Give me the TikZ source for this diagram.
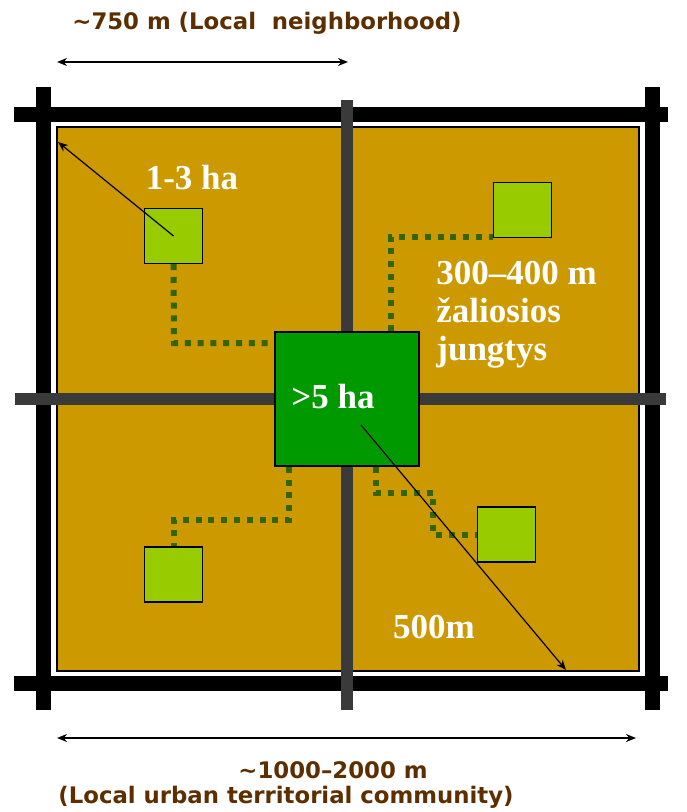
\documentclass[tikz,border=0pt]{standalone}
\usepackage{fontspec}
\setmainfont{Liberation Serif}
\newfontfamily\plansans{DejaVu Sans}[Ligatures=TeX]
\usetikzlibrary{arrows.meta,positioning,calc}
\definecolor{PlotOrange}{HTML}{CC9900}
\definecolor{ParkLight}{HTML}{99CC00}
\definecolor{ParkDark}{HTML}{009900}
\definecolor{LinkGreen}{HTML}{336600}
\definecolor{RoadGray}{HTML}{3A3A3A}
\definecolor{LabelBrown}{HTML}{5C2E00}

\begin{document}
\begin{tikzpicture}[
  x=0.5pt, y=-0.5pt,
  mainroad/.style={line width=7.5pt, black},
  sideroad/.style={line width=6pt, RoadGray},
  park/.style={draw=black, line width=0.7pt, fill=ParkLight, minimum width=29pt, minimum height=27.5pt, inner sep=0pt},
  hubpark/.style={draw=black, line width=0.7pt, fill=ParkDark, minimum width=72pt, minimum height=67pt, inner sep=0pt},
  link/.style={LinkGreen, line width=3pt, dash pattern=on 3pt off 3.4pt},
  ray/.style={-{Stealth[length=5pt,width=4pt]}, line width=0.6pt},
  span/.style={{Stealth[length=5pt,width=4pt]}-{Stealth[length=5pt,width=4pt]}, line width=1pt},
  whitelab/.style={text=white, font=\fontsize{17.5}{19}\selectfont\bfseries, inner sep=0pt},
  brownlab/.style={text=LabelBrown, font=\plansans\fontsize{11.4}{13}\selectfont\bfseries, inner sep=0pt}
]
\useasboundingbox (0,0) rectangle (686,812);

% main roads round the block
\draw[mainroad] (14,114.5) -- (668,114.5);
\draw[mainroad] (14,683) -- (668,683);
\draw[mainroad] (43.5,87) -- (43.5,710);
\draw[mainroad] (652,87) -- (652,710);

% block
\draw[fill=PlotOrange, line width=0.6pt] (57,127) rectangle (639,671);

% inner streets
\draw[sideroad] (347,100) -- (347,710);
\draw[sideroad] (15,398.5) -- (666,398.5);

% parks
\node[hubpark] (hub) at (347,399) {};
\node[park] (tl) at (173.5,236) {};
\node[park] (tr) at (522.5,210) {};
\node[park] (bl) at (173.5,574.5) {};
\node[park] (br) at (506.5,534.5) {};

% green links
\coordinate (c1) at (174,343);
\coordinate (c2) at (391,237);
\coordinate (c3) at (289,520);
\coordinate (c4) at (376,493);
\coordinate (c5) at (433,534.5);
\draw[link] (tl.south) -- (c1) -- (c1 -| hub.west);
\draw[link] (c2 |- hub.north) -- (c2) -- (c2 -| tr.west);
\draw[link] (c3 |- hub.south) -- (c3) -| (bl.north);
\draw[link] (c4 |- hub.south) -- (c4) -| (c5) -- (br.west);

% radii
\coordinate (nwtip) at (58,142);
\coordinate (setip) at (566,670);
\draw[ray] (tl.center) -- (nwtip);
\draw[ray] ($(hub.center)+(14,26)$) -- (setip);

% labels
\node[whitelab] (hublab) at (333,397) {>5 ha};
\node[whitelab] (smallha) at (192,178) {1-3 ha};
\node[whitelab, align=left, anchor=north west] (linklab) at (436,261) {300--400 m\\žaliosios\\jungtys};
\node[whitelab] (radius) at (434,627) {500m};

% dimensions
\coordinate (nbL) at (57,62);
\coordinate (nbR) at (348,62);
\coordinate (cmL) at (57,738);
\coordinate (cmR) at (636,738);
\draw[span] (nbL) -- (nbR);
\draw[span] (cmL) -- (cmR);
\node[brownlab, anchor=west] (nbhd) at (72,23) {\textasciitilde750 m (Local\ \ neighborhood)};
\node[brownlab] (cmsize) at (333,770) {\textasciitilde1000–2000 m};
\node[brownlab, anchor=west] (cmname) at (58,797) {(Local urban territorial community)};
\end{tikzpicture}
\end{document}
